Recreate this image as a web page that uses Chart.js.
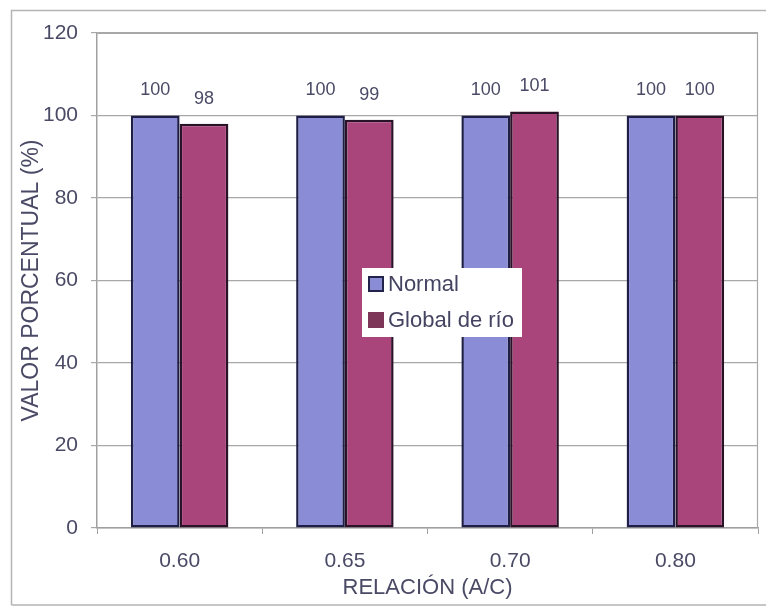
<!DOCTYPE html>
<html>
<head>
<meta charset="utf-8">
<script src="https://cdn.jsdelivr.net/npm/chart.js@4.4.1/dist/chart.umd.min.js"></script>
<style>
  html, body { margin: 0; padding: 0; background: #ffffff; }
  #wrap { width: 766px; height: 610px; }
</style>
</head>
<body>
<div id="wrap"><canvas id="c" width="766" height="610"></canvas></div>
<script>
// Relación agua/cemento y valores porcentuales por tipo de agregado
const categories = ['0.60', '0.65', '0.70', '0.80'];
const normalValues = [100, 100, 100, 100];
const globalRioValues = [98, 99, 101, 100];
const yTicks = [0, 20, 40, 60, 80, 100, 120];

const TEXT = '#4a4a66';
const FONT = 'Liberation Sans, Arial, Helvetica, sans-serif';

// Frame around the whole chart plus a border around the plot area
const framePlugin = {
  id: 'frame',
  beforeDraw(chart) {
    const ctx = chart.ctx;
    ctx.save();
    ctx.fillStyle = '#ffffff';
    ctx.fillRect(0, 0, chart.width, chart.height);
    ctx.strokeStyle = '#b4b4b4';
    ctx.lineWidth = 1.5;
    ctx.beginPath();
    ctx.moveTo(11.5, 605);
    ctx.lineTo(11.5, 10.5);
    ctx.lineTo(766, 10.5);
    ctx.moveTo(11.5, 605);
    ctx.lineTo(766, 605);
    ctx.stroke();
    ctx.restore();
  },
  afterDraw(chart) {
    const a = chart.chartArea, ctx = chart.ctx;
    ctx.save();
    ctx.strokeStyle = '#a8a8a8';
    ctx.lineWidth = 1.2;
    ctx.beginPath();
    ctx.moveTo(a.left, a.top + 0.5);
    ctx.lineTo(a.right - 0.5, a.top + 0.5);
    ctx.lineTo(a.right - 0.5, a.bottom);
    ctx.stroke();
    ctx.restore();
  }
};

// Value printed above each bar
const valueLabels = {
  id: 'valueLabels',
  afterDatasetsDraw(chart) {
    const ctx = chart.ctx;
    ctx.save();
    ctx.font = '18px ' + FONT;
    ctx.fillStyle = TEXT;
    ctx.textAlign = 'center';
    ctx.textBaseline = 'middle';
    chart.data.datasets.forEach((ds, di) => {
      const meta = chart.getDatasetMeta(di);
      meta.data.forEach((bar, i) => {
        ctx.fillText(String(ds.data[i]), bar.x, bar.y - 25);
      });
    });
    ctx.restore();
  }
};

// Legend box placed inside the plot area
const innerLegend = {
  id: 'innerLegend',
  afterDraw(chart) {
    const a = chart.chartArea, ctx = chart.ctx;
    const x = a.left + 265, y = 268, w = 160, h = 69;
    ctx.save();
    ctx.fillStyle = '#ffffff';
    ctx.fillRect(x, y, w, h);
    ctx.font = '22px ' + FONT;
    ctx.textBaseline = 'middle';
    ctx.textAlign = 'left';
    const markers = [
      { fill: chart.data.datasets[0].backgroundColor, stroke: '#23234a' },
      { fill: '#7e3658', stroke: '#7e3658' }
    ];
    chart.data.datasets.forEach((ds, i) => {
      const cy = y + 16 + i * 36;
      ctx.fillStyle = markers[i].fill;
      ctx.fillRect(x + 7, cy - 7, 14, 14);
      ctx.strokeStyle = markers[i].stroke;
      ctx.lineWidth = 2;
      ctx.strokeRect(x + 7, cy - 7, 14, 14);
      ctx.fillStyle = '#444462';
      ctx.fillText(ds.label, x + 26, cy + 1);
    });
    ctx.restore();
  }
};

new Chart(document.getElementById('c'), {
  type: 'bar',
  data: {
    labels: categories,
    datasets: [
      {
        label: 'Normal',
        data: normalValues,
        backgroundColor: '#8a8dd6',
        borderColor: '#1e1e46',
        borderWidth: 2.5,
        borderSkipped: false,
        categoryPercentage: 0.59,
        barPercentage: 1.0
      },
      {
        label: 'Global de río',
        data: globalRioValues,
        backgroundColor: '#a9457b',
        borderColor: '#2a1228',
        borderWidth: 2.5,
        borderSkipped: false,
        categoryPercentage: 0.59,
        barPercentage: 1.0
      }
    ]
  },
  options: {
    responsive: false,
    animation: false,
    devicePixelRatio: 1,
    layout: { padding: { top: 33, right: 8, left: 0, bottom: 0 } },
    plugins: {
      legend: { display: false },
      tooltip: { enabled: false }
    },
    scales: {
      x: {
        offset: true,
        grid: {
          offset: true,
          drawOnChartArea: false,
          drawTicks: true,
          tickLength: 6,
          color: '#a0a0a0'
        },
        border: { color: '#a0a0a0', width: 1.5 },
        ticks: {
          color: TEXT,
          font: { family: FONT, size: 21 },
          padding: 15
        },
        title: {
          display: true,
          text: 'RELACIÓN (A/C)',
          color: TEXT,
          font: { family: FONT, size: 22 },
          padding: { top: 0, bottom: 9 }
        },
        afterFit(scale) { scale.height = 82; }
      },
      y: {
        min: 0,
        max: 120,
        afterBuildTicks(scale) {
          scale.ticks = yTicks.map(v => ({ value: v }));
        },
        grid: {
          color: '#a8a8a8',
          lineWidth: 1.2,
          tickLength: 6
        },
        border: { color: '#a0a0a0', width: 1.5 },
        ticks: {
          color: TEXT,
          font: { family: FONT, size: 21 },
          padding: 13
        },
        title: {
          display: true,
          text: 'VALOR PORCENTUAL (%)',
          color: TEXT,
          font: { family: FONT, size: 23 },
          padding: { top: 18, bottom: 0 }
        },
        afterFit(scale) { scale.width = 97; }
      }
    }
  },
  plugins: [framePlugin, valueLabels, innerLegend]
});
</script>
</body>
</html>
